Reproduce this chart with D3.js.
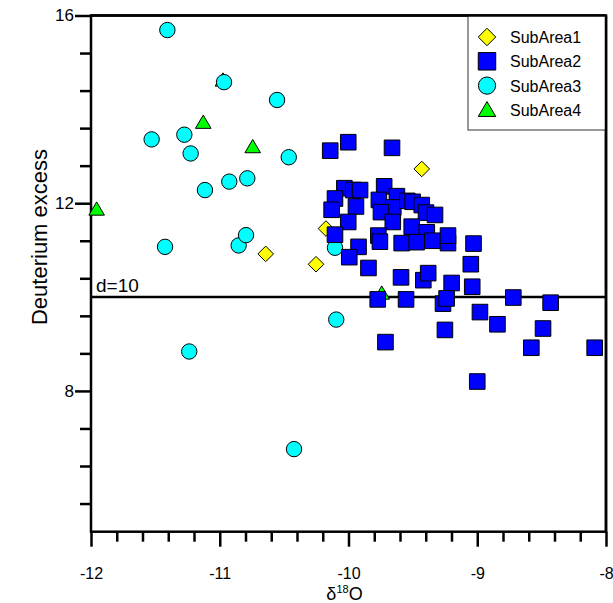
<!DOCTYPE html>
<html>
<head>
<meta charset="utf-8">
<script src="https://cdn.jsdelivr.net/npm/d3@7"></script>
<style>
  html, body { margin: 0; padding: 0; background: #fff; }
  svg { display: block; font-family: "Liberation Sans", Arial, sans-serif; }
</style>
</head>
<body>
<svg id="chart" width="613" height="603"></svg>
<script>
// ---- data ----
const subArea1 = [ // yellow diamonds [d18O, d-excess]
  [-10.643, 10.92], [-10.252, 10.70], [-10.175, 11.46], [-9.431, 12.73]
];
const subArea2 = [ // blue squares
  [-10.142, 13.12], [-10.002, 13.30], [-9.662, 13.18], [-10.032, 12.32],
  [-9.963, 12.28], [-9.910, 12.28], [-10.105, 12.10], [-10.131, 11.86],
  [-9.942, 11.93], [-10.002, 11.60], [-10.105, 11.33], [-9.723, 12.36],
  [-9.764, 12.07], [-9.624, 12.15], [-9.652, 11.91], [-9.748, 11.81],
  [-9.656, 11.60], [-9.768, 11.31], [-9.756, 11.18], [-9.922, 11.07],
  [-9.994, 10.85], [-9.845, 10.62], [-9.543, 12.05], [-9.502, 12.03],
  [-9.431, 11.96], [-9.398, 11.80], [-9.328, 11.75], [-9.509, 11.50],
  [-9.392, 11.38], [-9.587, 11.15], [-9.470, 11.17], [-9.349, 11.20],
  [-9.227, 11.15], [-9.227, 11.31], [-9.029, 11.14], [-9.050, 10.70],
  [-9.592, 10.42], [-9.419, 10.36], [-9.381, 10.51], [-9.199, 10.30],
  [-9.039, 10.22], [-9.773, 9.95], [-9.553, 9.95], [-9.266, 9.86],
  [-9.238, 9.97], [-8.720, 9.99], [-8.430, 9.88], [-8.979, 9.68],
  [-8.843, 9.42], [-9.251, 9.30], [-8.489, 9.33], [-9.713, 9.04],
  [-8.580, 8.92], [-8.088, 8.92], [-9.000, 8.20]
];
const subArea3 = [ // cyan circles
  [-11.407, 15.69], [-10.967, 14.58], [-10.555, 14.20], [-11.529, 13.36],
  [-11.275, 13.46], [-11.226, 13.06], [-10.464, 12.98], [-11.115, 12.28],
  [-10.926, 12.46], [-10.786, 12.53], [-11.425, 11.07], [-10.853, 11.10],
  [-10.796, 11.32], [-10.105, 11.05], [-10.095, 9.52], [-11.237, 8.84],
  [-10.423, 6.76]
];
const subArea4 = [ // green triangles
  [-11.128, 13.72], [-10.744, 13.20], [-11.956, 11.87], [-10.975, 14.62],
  [-9.742, 10.08]
];
const xDomain = [-12, -8];
const yDomain = [5, 16];
const xTickLabels = [-12, -11, -10, -9, -8];
const yTickLabels = [8, 12, 16];
const referenceLine = 10;
const legendNames = ["SubArea1", "SubArea2", "SubArea3", "SubArea4"];

// ---- layout ----
const svg = d3.select("#chart");
const L = 91, R = 606, T = 15.5, B = 531.7;
const x = d3.scaleLinear().domain(xDomain).range([L, R]);
const y = d3.scaleLinear().domain(yDomain).range([B, T]);

// symbol path generators (centered at 0,0)
const shapes = {
  diamond: s => `M0,${-s}L${s},0L0,${s}L${-s},0Z`,
  square: s => `M${-s},${-s}H${s}V${s}H${-s}Z`,
  circle: s => `M${s},0A${s},${s} 0 1,1 ${-s},0A${s},${s} 0 1,1 ${s},0Z`,
  triangle: s => `M0,${-s*0.95}L${s*1.0},${s*0.75}L${-s*1.0},${s*0.75}Z`
};
const series = [
  {name: legendNames[0], data: subArea1, shape: "diamond", size: 7.8, fill: "#ffff00"},
  {name: legendNames[1], data: subArea2, shape: "square", size: 7.8, fill: "#0000ff"},
  {name: legendNames[2], data: subArea3, shape: "circle", size: 7.7, fill: "#00ffff"},
  {name: legendNames[3], data: subArea4, shape: "triangle", size: 7.8, fill: "#00ff00"}
];
const fontFam = "'Liberation Sans', Arial, sans-serif";

// ---- axes ticks ----
const minorX = d3.range(0, 21).map(i => xDomain[0] + i * 0.2);
const gx = svg.append("g").attr("transform", `translate(0,${B})`);
gx.call(d3.axisBottom(x).tickValues(minorX).tickSize(10).tickFormat(""));
gx.select(".domain").remove();
gx.selectAll(".tick line").attr("stroke", "#000").attr("stroke-width", 2.5)
  .attr("y2", d => Math.abs(d - Math.round(d)) < 1e-6 ? 15 : 10);

const gxl = svg.append("g").attr("transform", `translate(0,${B})`);
gxl.call(d3.axisBottom(x).tickValues(xTickLabels).tickSize(0).tickPadding(36).tickFormat(d => String(d)));
gxl.select(".domain").remove();
gxl.selectAll("text").attr("font-size", 16).attr("fill", "#000").attr("font-family", fontFam);

const minorY = d3.range(0, 14).map(i => yDomain[1] - i * 0.8).filter(v => v > yDomain[0] + 0.01);
const gy = svg.append("g").attr("transform", `translate(${L},0)`);
gy.call(d3.axisLeft(y).tickValues(minorY).tickSize(11).tickFormat(""));
gy.select(".domain").remove();
gy.selectAll(".tick line").attr("stroke", "#000").attr("stroke-width", 2.5)
  .attr("x2", d => yTickLabels.some(v => Math.abs(v - d) < 1e-6) ? -16 : -11);

const gyl = svg.append("g").attr("transform", `translate(${L},0)`);
gyl.call(d3.axisLeft(y).tickValues(yTickLabels).tickSize(0).tickPadding(17).tickFormat(d => String(d)));
gyl.select(".domain").remove();
gyl.selectAll("text").attr("font-size", 17).attr("fill", "#000").attr("font-family", fontFam);

// ---- frame ----
svg.append("rect").attr("x", L).attr("y", T).attr("width", R - L).attr("height", B - T)
  .attr("fill", "none").attr("stroke", "#000").attr("stroke-width", 2.5);

// ---- reference line ----
svg.append("line").attr("x1", L).attr("x2", R)
  .attr("y1", y(referenceLine)).attr("y2", y(referenceLine))
  .attr("stroke", "#000").attr("stroke-width", 2.6);
svg.append("text").attr("x", L + 5).attr("y", y(referenceLine) - 5)
  .attr("font-size", 19).text("d=" + referenceLine);

// ---- points (draw order: 1, 4, 3, 2) ----
const order = [0, 3, 2, 1];
order.forEach(i => {
  const s = series[i];
  svg.append("g").selectAll("path").data(s.data).join("path")
    .attr("d", shapes[s.shape](s.size))
    .attr("transform", d => `translate(${x(d[0])},${y(d[1])})`)
    .attr("fill", s.fill).attr("stroke", "#000").attr("stroke-width", 1);
});

// ---- legend ----
const lg = svg.append("g");
lg.append("rect").attr("x", 468).attr("y", T).attr("width", R - 468).attr("height", 130 - T)
  .attr("fill", "#fff").attr("stroke", "#333").attr("stroke-width", 1);
series.forEach((s, i) => {
  const cy = 37 + i * 24.3;
  lg.append("path").attr("d", shapes[s.shape](s.size * 1.12))
    .attr("transform", `translate(487,${cy})`)
    .attr("fill", s.fill).attr("stroke", "#000").attr("stroke-width", 1);
  lg.append("text").attr("x", 510).attr("y", cy + 6).attr("font-size", 16).text(s.name);
});
// redraw right/top frame edges over legend
svg.append("line").attr("x1", R).attr("x2", R).attr("y1", T).attr("y2", B)
  .attr("stroke", "#000").attr("stroke-width", 2.5);
svg.append("line").attr("x1", L).attr("x2", R).attr("y1", T).attr("y2", T)
  .attr("stroke", "#000").attr("stroke-width", 2.5);

// ---- axis titles ----
const xt = svg.append("text").attr("x", (L + R) / 2 - 4).attr("y", 600)
  .attr("text-anchor", "middle").attr("font-size", 18);
xt.append("tspan").text("δ");
xt.append("tspan").attr("font-size", 11).attr("dy", -7).text("18");
xt.append("tspan").attr("dy", 7).text("O");

svg.append("text").attr("transform", `translate(47,${237}) rotate(-90)`)
  .attr("text-anchor", "middle").attr("font-size", 22).text("Deuterium excess");
</script>
</body>
</html>
